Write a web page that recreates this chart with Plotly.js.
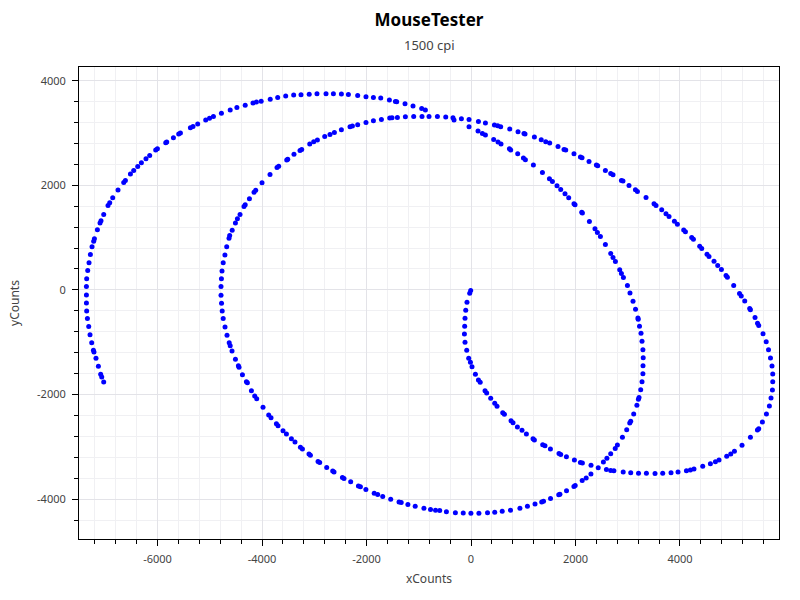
<!DOCTYPE html>
<html>
<head>
<meta charset="utf-8">
<script src="https://cdn.plot.ly/plotly-3.0.1.min.js"></script>
<style>html,body{margin:0;padding:0;background:#fff;}#chart{width:800px;height:600px;}</style>
</head>
<body>
<div id="chart"></div>
<script>
var chartTitle = 'MouseTester';
var chartSubtitle = '1500 cpi';
var xLabel = 'xCounts';
var yLabel = 'yCounts';
var xTickVals = [-6000, -4000, -2000, 0, 2000, 4000];
var xTickText = ['-6000', '-4000', '-2000', '0', '2000', '4000'];
var yTickVals = [-4000, -2000, 0, 2000, 4000];
var yTickText = ['-4000', '-2000', '0', '2000', '4000'];

var xCounts = [
-6,-25,-77,-101,-115,-121,-126,-115,-82,-44,-11,19,84,142,176,268,300,377,454,498,
607,639,766,804,888,976,1060,1187,1213,1372,1416,1520,1684,1717,1826,1979,2094,2132,2297,2435,
2592,2674,2735,2913,3057,3206,3357,3522,3669,3828,3962,4123,4199,4268,4435,4582,4678,4747,4894,4971,
5042,5187,5348,5482,5507,5577,5654,5711,5742,5769,5775,5775,5761,5732,5694,5650,5589,5507,5484,5436,
5348,5334,5239,5172,5139,5028,4907,4881,4793,4722,4651,4555,4517,4416,4377,4257,4224,4104,4071,3950,
3893,3790,3732,3650,3541,3503,3350,3185,3147,3024,2909,2879,2718,2674,2572,2425,2400,2259,2125,2094,
1971,1813,1780,1665,1506,1430,1344,1213,1034,1014,900,741,568,511,448,276,142,-38,-184,-345,
-484,-643,-804,-938,-1097,-1256,-1409,-1512,-1556,-1715,-1868,-2010,-2169,-2270,-2316,-2481,-2615,-2699,-2800,-2940,
-3011,-3087,-3240,-3273,-3388,-3508,-3527,-3681,-3713,-3847,-4000,-4121,-4153,-4241,-4322,-4345,-4421,-4471,-4509,-4571,
-4619,-4632,-4676,-4710,-4743,-4766,-4777,-4785,-4785,-4775,-4762,-4743,-4708,-4670,-4628,-4609,-4574,-4509,-4452,-4440,
-4375,-4299,-4280,-4203,-4140,-4102,-3981,-3872,-3828,-3725,-3694,-3598,-3533,-3438,-3369,-3265,-3227,-3101,-3074,-2928,
-2896,-2762,-2647,-2622,-2461,-2431,-2303,-2155,-2117,-2012,-1853,-1786,-1690,-1537,-1378,-1336,-1208,-1068,-901,-775,
-679,-599,-471,-299,-149,-2,151,316,454,597,756,936,1080,1225,1353,1388,1522,1679,1702,1828,
1970,1994,2128,2205,2295,2534,2601,2674,2760,2802,2898,2980,3038,3057,3114,3175,3204,3216,3248,3273,
3290,3292,3296,3290,3273,3254,3225,3200,3195,3149,3101,3043,2994,2917,2879,2846,2764,2718,2674,2572,
2477,2419,2373,2266,2132,2119,1991,1971,1870,1799,1717,1646,1558,1501,1367,1194,1041,1003,894,760,
735,574,517,434,276,218,134,-38,-325,-873,-944,-1110,-1263,-1422,-1447,-1562,-1728,-1868,-2010,-2169,
-2347,-2481,-2634,-2775,-2948,-3097,-3254,-3394,-3547,-3700,-3843,-4016,-4108,-4173,-4322,-4481,-4609,-4777,-4930,-5005,
-5078,-5231,-5321,-5371,-5562,-5595,-5696,-5824,-5843,-6002,-6035,-6150,-6221,-6309,-6379,-6456,-6519,-6615,-6647,-6756,
-6858,-6915,-6948,-7030,-7082,-7101,-7151,-7208,-7222,-7254,-7285,-7311,-7336,-7356,-7361,-7361,-7361,-7356,-7342,-7317,
-7292,-7260,-7227,-7216,-7178,-7132,-7088,-7068,-7030
];

var yCounts = [
-13,-63,-235,-389,-542,-695,-842,-1001,-1154,-1307,-1384,-1468,-1613,-1723,-1767,-1927,-1971,-2073,-2169,-2226,
-2348,-2379,-2502,-2540,-2622,-2685,-2756,-2846,-2871,-2961,-2980,-3043,-3126,-3145,-3191,-3254,-3298,-3311,-3355,-3401,
-3436,-3451,-3459,-3483,-3497,-3506,-3508,-3512,-3508,-3497,-3483,-3459,-3445,-3426,-3374,-3325,-3286,-3254,-3183,-3139,
-3087,-2972,-2819,-2680,-2655,-2526,-2373,-2220,-2067,-1914,-1755,-1608,-1455,-1302,-1143,-991,-838,-679,-637,-530,
-379,-358,-211,-115,-71,82,243,274,389,465,549,637,683,790,836,970,1001,1110,1143,1257,
1315,1403,1455,1531,1614,1646,1767,1881,1914,1996,2081,2092,2201,2226,2283,2373,2387,2456,2526,2540,
2603,2674,2685,2743,2808,2833,2871,2923,2980,2992,3024,3076,3120,3139,3152,3191,3221,3260,3273,3292,
3305,3317,3317,3317,3317,3311,3298,3292,3286,3260,3235,3202,3158,3133,3120,3062,3011,2972,2934,2865,
2833,2789,2685,2666,2593,2498,2482,2364,2341,2207,2048,1904,1866,1742,1627,1594,1441,1359,1279,1139,
1039,986,827,666,517,360,214,63,-100,-253,-402,-549,-708,-865,-1011,-1068,-1168,-1326,-1451,-1480,
-1623,-1757,-1776,-1927,-2029,-2081,-2245,-2393,-2444,-2559,-2597,-2693,-2756,-2846,-2909,-3011,-3043,-3139,-3164,-3279,
-3298,-3394,-3464,-3483,-3585,-3604,-3669,-3751,-3765,-3818,-3889,-3910,-3952,-4004,-4054,-4067,-4102,-4136,-4173,-4197,
-4215,-4219,-4241,-4261,-4268,-4272,-4272,-4261,-4253,-4234,-4211,-4176,-4138,-4092,-4054,-4039,-3987,-3918,-3905,-3841,
-3757,-3738,-3646,-3598,-3522,-3292,-3219,-3133,-3034,-2967,-2819,-2676,-2546,-2513,-2373,-2205,-2090,-2058,-1910,-1757,
-1604,-1451,-1296,-1143,-980,-829,-693,-559,-536,-369,-216,-61,82,235,312,383,542,618,695,867,
1020,1097,1168,1307,1468,1487,1627,1646,1761,1837,1920,1991,2073,2125,2245,2387,2488,2521,2603,2674,
2699,2789,2827,2877,2961,2992,3038,3120,3248,3439,3470,3516,3560,3598,3604,3631,3669,3680,3694,3719,
3738,3746,3751,3751,3751,3742,3732,3727,3707,3681,3646,3608,3593,3573,3531,3487,3439,3378,3317,3281,
3248,3171,3126,3101,2999,2980,2909,2827,2814,2699,2674,2571,2507,2431,2360,2283,2214,2092,2054,1908,
1761,1665,1614,1441,1321,1277,1148,976,932,823,676,517,369,211,63,-96,-249,-402,-549,-702,
-856,-1009,-1154,-1187,-1307,-1460,-1614,-1665,-1761
];

var FONT = '"Noto Sans", "Open Sans", sans-serif';

var trace = {
  x: xCounts,
  y: yCounts,
  type: 'scatter',
  mode: 'markers',
  marker: {color: '#0000ff', size: 5},
  hoverinfo: 'x+y'
};

var axisCommon = {
  showline: true,
  linecolor: '#000',
  linewidth: 1,
  mirror: true,
  ticks: 'outside',
  ticklen: 6,
  tickcolor: '#000',
  tickwidth: 1,
  zeroline: false,
  showgrid: true,
  gridcolor: '#e3e3e8',
  gridwidth: 1,
  tickfont: {family: FONT, size: 11, color: '#444'},
  ticklabelstandoff: 4,
  tickmode: 'array',
  minor: {dtick: 400, tick0: 0, ticks: 'outside', ticklen: 4, tickcolor: '#000', showgrid: true, gridcolor: '#f0f0f3', gridwidth: 1}
};

var layout = {
  width: 800,
  height: 600,
  paper_bgcolor: '#fff',
  plot_bgcolor: '#fff',
  showlegend: false,
  margin: {l: 79, r: 21, t: 67, b: 61, autoexpand: false},
  font: {family: FONT, color: '#444'},
  title: {
    text: chartTitle,
    font: {family: FONT, size: 17, color: '#000', weight: 'bold'},
    xref: 'paper', x: 0.5, xanchor: 'center',
    yref: 'container', y: 1 - 20/600, yanchor: 'middle'
  },
  annotations: [{
    text: chartSubtitle,
    xref: 'paper', x: 0.5, xanchor: 'center',
    yref: 'paper', y: (539 - 45) / 472, yanchor: 'middle',
    showarrow: false,
    font: {family: FONT, size: 13, color: '#444'}
  }],
  xaxis: Object.assign({}, axisCommon, {
    range: [-7503, 5895],
    tickvals: xTickVals,
    ticktext: xTickText,
    title: {text: xLabel, font: {family: FONT, size: 12, color: '#444'}, standoff: 9}
  }),
  yaxis: Object.assign({}, axisCommon, {
    range: [-4763, 4262],
    tickvals: yTickVals,
    ticktext: yTickText,
    title: {text: yLabel, font: {family: FONT, size: 12, color: '#444'}, standoff: 14}
  })
};

Plotly.newPlot('chart', [trace], layout, {displayModeBar: false, staticPlot: true});
</script>
</body>
</html>
